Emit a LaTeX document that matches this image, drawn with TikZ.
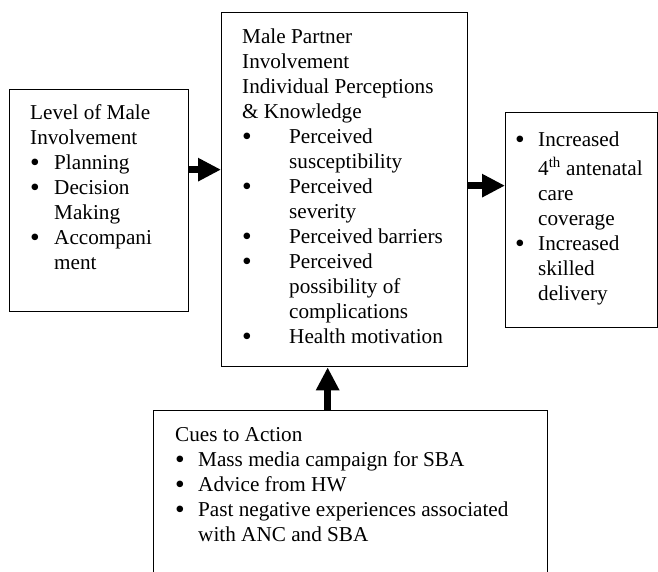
\documentclass[tikz,border=0pt]{standalone}
\usepackage{fontspec}
\setmainfont{Liberation Serif}
\usepackage{tikz}
\usetikzlibrary{positioning, arrows.meta}

% bullet line and its continuation
\newcommand{\bdot}{\raisebox{-2pt}{\scalebox{1.3}{\textbullet}}}
\newcommand{\bitem}[2][24pt]{\makebox[#1][l]{\bdot}#2}
\newcommand{\bcont}[2][24pt]{\hspace*{#1}#2}

\tikzset{
  frame/.style={draw, line width=1.3pt, anchor=north west, inner sep=0pt},
  txt/.style={align=left, inner sep=0pt, font=\fontsize{21.2}{25}\selectfont},
  blk/.style={line width=7pt, -{Triangle[length=23pt, width=22pt]}},
}

\begin{document}
\begin{tikzpicture}[x=1pt, y=-1pt]
    \useasboundingbox (0,0) rectangle (658,572);

    % frames
    \node[frame, minimum width=179pt, minimum height=222pt] (lvl) at (9,89) {};
    \node[frame, minimum width=246pt, minimum height=354pt] (mpi) at (221,12) {};
    \node[frame, minimum width=152pt, minimum height=215pt] (res) at (505,112) {};
    \node[frame, minimum width=394pt, minimum height=175pt] (cue) at (153,410) {};

    % texts
    \node[txt, below right=15.5pt and 21pt of lvl.north west] (lvltxt) {%
      Level of Male\\
      Involvement\\
      \bitem{Planning}\\
      \bitem{Decision}\\
      \bcont{Making}\\
      \bitem{Accompani}\\
      \bcont{ment}};

    \node[txt, below right=16.5pt and 21pt of mpi.north west] (mpitxt) {%
      Male Partner\\
      Involvement\\
      Individual Perceptions\\
      \& Knowledge\\
      \bitem[47pt]{Perceived}\\
      \bcont[47pt]{susceptibility}\\
      \bitem[47pt]{Perceived}\\
      \bcont[47pt]{severity}\\
      \bitem[47pt]{Perceived barriers}\\
      \bitem[47pt]{Perceived}\\
      \bcont[47pt]{possibility of}\\
      \bcont[47pt]{complications}\\
      \bitem[47pt]{Health motivation}};

    \node[txt, below right=19.5pt and 10pt of res.north west] (restxt) {%
      \bitem[23pt]{Increased}\\[4pt]
      \bcont[23pt]{4\textsuperscript{th} antenatal}\\
      \bcont[23pt]{care}\\
      \bcont[23pt]{coverage}\\
      \bitem[23pt]{Increased}\\
      \bcont[23pt]{skilled}\\
      \bcont[23pt]{delivery}};

    \node[txt, below right=17.5pt and 22pt of cue.north west] (cuetxt) {%
      Cues to Action\\
      \bitem[23pt]{Mass media campaign for SBA}\\
      \bitem[23pt]{Advice from HW}\\
      \bitem[23pt]{Past negative experiences associated}\\
      \bcont[23pt]{with ANC and SBA}};

    % block arrows
    \coordinate (a1) at ([yshift=31pt]lvl.east);
    \draw[blk] (a1) -- (a1 -| mpi.west);
    \coordinate (a2) at ([yshift=4pt]mpi.east);
    \draw[blk] (a2) -- (a2 -| res.west);
    \coordinate (a3) at ([xshift=-17pt]mpi.south);
    \draw[blk] (a3 |- cue.north) -- (a3);
\end{tikzpicture}
\end{document}
